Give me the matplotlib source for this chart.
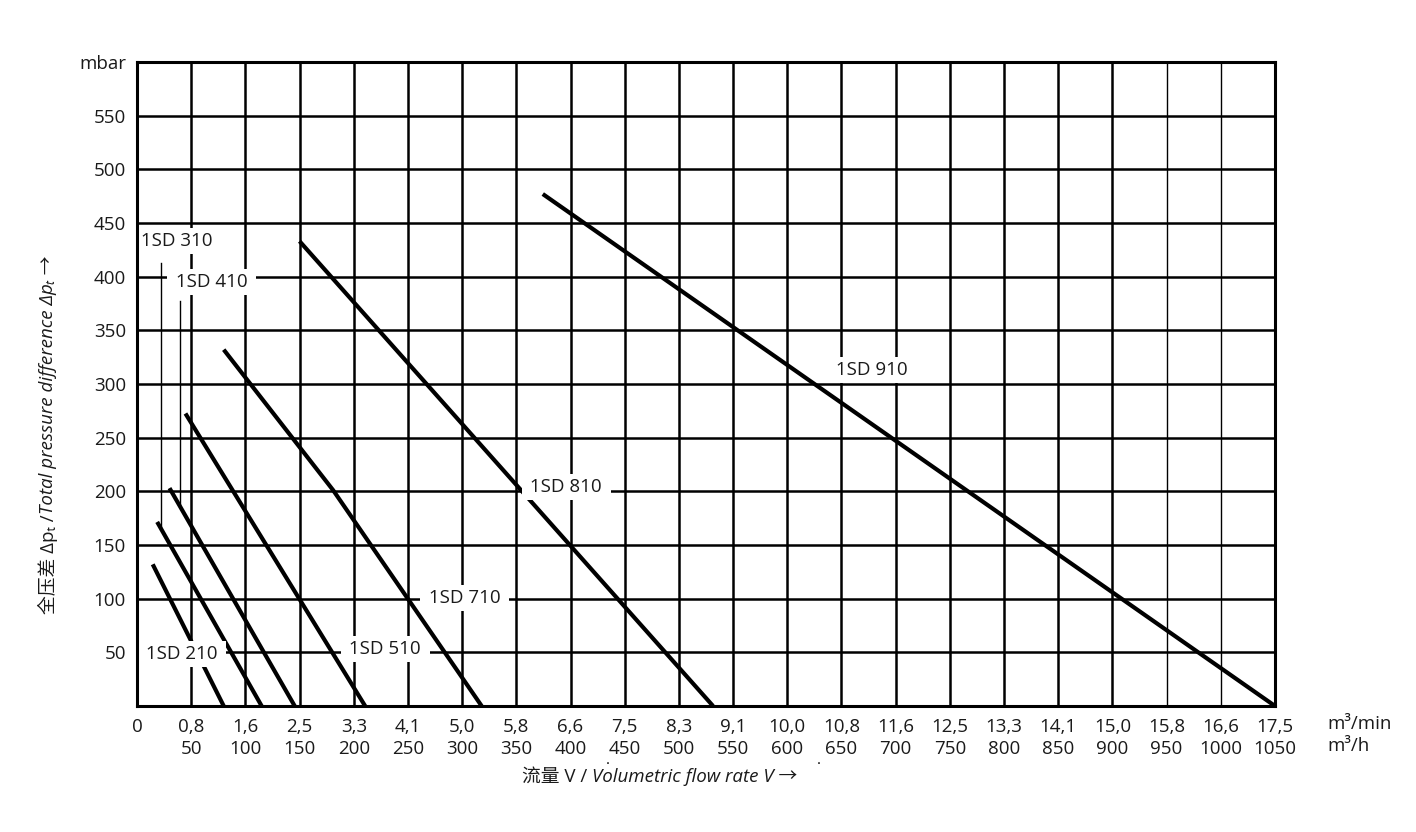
import numpy as np
import matplotlib
matplotlib.use("Agg")
from matplotlib import pyplot as plt

plt.rcParams['font.family'] = ['Open Sans', 'Noto Sans CJK SC', 'DejaVu Sans']

# flow rate (m3/h) and pressure (mbar) of each fan curve
curve_names = ['1SD 210', '1SD 310', '1SD 410', '1SD 510', '1SD 710', '1SD 810', '1SD 910']
curve_x = [
    [14.5, 80],
    [18.6, 115],
    [30, 145.5],
    [44.7, 210.5],
    [80, 181, 318],
    [150, 531.5],
    [374.4, 1050],
]
curve_y = [
    [132, 0],
    [171.5, 0],
    [203, 0],
    [272.5, 0],
    [332, 201, 0],
    [433, 0],
    [477, 0],
]

# label centres
label_x = [41, 36.4, 68.7, 229, 302, 396, 677.7]
label_y = [48.4, 433, 395, 53, 100.6, 204, 313]

# leader lines: curve index, x, top y
leader_curve = [1, 2]
leader_x = [22, 39.5]
leader_top = [413, 377.6]

flow_h = list(range(0, 1051, 50))
flow_min = ['0', '0,8', '1,6', '2,5', '3,3', '4,1', '5,0', '5,8', '6,6', '7,5', '8,3',
            '9,1', '10,0', '10,8', '11,6', '12,5', '13,3', '14,1', '15,0', '15,8',
            '16,6', '17,5']
pressure_ticks = list(range(50, 601, 50))
pressure_labels = [str(v) for v in range(50, 551, 50)] + ['mbar']

FS = 13.5
TXT = '#1a1a1a'

fig = plt.figure(figsize=(14.16, 8.32), dpi=100)
ax = fig.add_axes([137 / 1416, 1 - 706 / 832, (1275 - 137) / 1416, (706 - 62) / 832])
ax.set_xlim(0, 1050)
ax.set_ylim(0, 600)

# grid
for v in flow_h[1:-1]:
    lw = 1.0 if v in (950, 1000) else 1.8
    ax.axvline(v, color='black', lw=lw, zorder=1)
for v in pressure_ticks[:-1]:
    ax.axhline(v, color='black', lw=1.8, zorder=1)
for s in ax.spines.values():
    s.set_linewidth(2.2)
    s.set_zorder(6)

for xs, ys in zip(curve_x, curve_y):
    ax.plot(xs, ys, color='black', lw=3.0, solid_capstyle='butt', zorder=3)

for ci, lx, lt in zip(leader_curve, leader_x, leader_top):
    xs = curve_x[ci]
    ys = curve_y[ci]
    yb = np.interp(lx, xs, ys)
    ax.plot([lx, lx], [yb, lt], color='black', lw=1.0, zorder=2)

for name, lx, ly in zip(curve_names, label_x, label_y):
    ax.text(lx, ly, ' ' + name + ' ', ha='center', va='center', fontsize=FS, color=TXT,
            zorder=4, bbox=dict(boxstyle='square,pad=0.2', fc='white', ec='none'))

ax.set_yticks(pressure_ticks)
ax.set_yticklabels(pressure_labels, fontsize=FS, color=TXT)
ax.set_xticks(flow_h)
xlabels = ['0'] + [m + '\n' + str(h) for m, h in zip(flow_min[1:], flow_h[1:])]
ax.set_xticklabels(xlabels, fontsize=FS, color=TXT, linespacing=1.25, va='top')
ax.tick_params(length=0, pad=8)
ax.tick_params(axis='x', pad=9)

fig.text(1327 / 1416, 1 - 735 / 832, 'm³/min\nm³/h', fontsize=FS, color=TXT,
         ha='left', va='center', linespacing=1.25)

# x axis title
t1 = fig.text(522 / 1416, 1 - 777 / 832, '流量 V / ', fontsize=FS, color=TXT,
              ha='left', va='center')
ax.annotate('Volumetric flow rate V →', xy=(1, 0.5), xycoords=t1, fontsize=FS,
            color=TXT, style='italic', ha='left', va='center')
fig.text(608 / 1416, 1 - 761 / 832, '.', fontsize=11, ha='center', va='center')
fig.text(819 / 1416, 1 - 761 / 832, '.', fontsize=11, ha='center', va='center')

# y axis title
t2 = fig.text(48 / 1416, 1 - 614 / 832, '全压差 Δpₜ /', fontsize=FS, color=TXT,
              rotation=90, ha='center', va='bottom')
ax.annotate('Total pressure difference Δpₜ →', xy=(0.5, 1), xycoords=t2, fontsize=FS,
            color=TXT, style='italic', rotation=90, ha='center', va='bottom')

plt.savefig('out.png', dpi=100)
plt.close()
